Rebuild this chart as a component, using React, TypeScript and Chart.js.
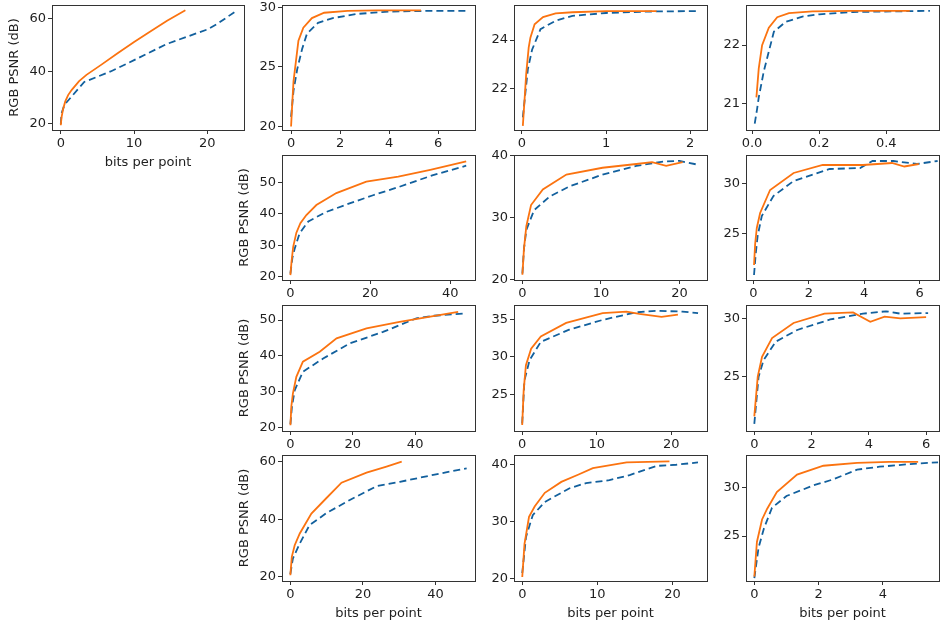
import React, { useEffect, useRef } from "react";
import { Chart, registerables } from "chart.js";

Chart.register(...registerables);

type Pt = [number, number];

// ---------- data (bits per point, RGB PSNR dB) ----------
const P00_ORANGE: Pt[] = [[0,19.5],[0.1,22.5],[0.3,25.5],[0.6,28.5],[1,31],[1.5,33],[2.5,36.3],[3.5,38.7],[5.5,42.5],[7.75,46.9],[10,51.2],[12,54.8],[14.5,59.3],[17,63.3]];
const P00_BLUE: Pt[] = [[0,20],[0.1,24],[0.5,27.3],[3.2,36],[6.8,40],[10,44.3],[14.5,50.5],[20,56],[21.3,58],[23.8,62.8]];

const P01_ORANGE: Pt[] = [[0,20],[0.05,22],[0.1,23.8],[0.2,25.5],[0.3,27.2],[0.5,28.3],[0.85,29.1],[1.35,29.55],[2.3,29.7],[3.5,29.75],[5.3,29.75]];
const P01_BLUE: Pt[] = [[0,20.8],[0.1,23],[0.25,24.8],[0.45,26.5],[0.65,27.8],[1.1,28.7],[1.7,29.1],[2.7,29.45],[4,29.65],[5.5,29.7],[7.15,29.7]];

const P02_ORANGE: Pt[] = [[0.01,20.45],[0.03,21.5],[0.05,22.6],[0.08,23.7],[0.1,24.1],[0.15,24.65],[0.25,24.95],[0.4,25.1],[0.6,25.15],[1,25.2],[1.6,25.2]];
const P02_BLUE: Pt[] = [[0.01,20.8],[0.04,21.8],[0.07,22.8],[0.12,23.6],[0.22,24.45],[0.4,24.8],[0.6,25.0],[1,25.12],[1.5,25.18],[2.1,25.2]];

const P03_ORANGE: Pt[] = [[0.013,21.1],[0.02,21.6],[0.03,22.0],[0.05,22.3],[0.075,22.48],[0.11,22.55],[0.18,22.58],[0.3,22.59],[0.47,22.59]];
const P03_BLUE: Pt[] = [[0.008,20.65],[0.015,20.9],[0.02,21.1],[0.035,21.55],[0.065,22.23],[0.1,22.4],[0.15,22.49],[0.2,22.53],[0.3,22.57],[0.53,22.59]];

const P11_ORANGE: Pt[] = [[0,20.5],[0.3,25],[0.7,29.5],[1.5,34],[2.5,37],[4,39.6],[6.5,42.8],[11.5,46.6],[19,50.2],[27,51.8],[35,54],[44,56.7]];
const P11_BLUE: Pt[] = [[0,21],[0.5,26],[1.1,29],[2.3,33.8],[4.5,37.6],[9,40.6],[14.8,43.3],[20.7,45.9],[27.3,48.6],[35.7,52.3],[44,55.3]];

const P12_ORANGE: Pt[] = [[0,20.8],[0.2,25],[0.5,28.6],[1.1,32],[2.6,34.5],[5.6,36.9],[10.2,38],[14.5,38.6],[16.5,38.9],[18.3,38.3],[20.4,38.9]];
const P12_BLUE: Pt[] = [[0,21],[0.2,25],[0.5,28],[1.5,31.2],[3.5,33.4],[6,35],[10.2,36.9],[14.5,38.3],[17.9,39],[20,39.1],[22.3,38.5]];

const P13_ORANGE: Pt[] = [[0.02,21.9],[0.06,24],[0.12,25.6],[0.24,27.1],[0.6,29.4],[1.45,31.1],[2.5,31.9],[3.95,31.9],[5,32.1],[5.45,31.75],[5.97,32.0]];
const P13_BLUE: Pt[] = [[0.02,20.9],[0.08,23],[0.15,24.8],[0.3,26.8],[0.72,28.8],[1.45,30.3],[2.75,31.5],[3.85,31.6],[4.3,32.3],[5.05,32.3],[5.9,32.0],[6.65,32.3]];

const P21_ORANGE: Pt[] = [[0,20.7],[0.3,26],[0.8,29.6],[1.9,34.2],[4,38.4],[9.4,41.2],[14.8,44.9],[24.4,47.7],[35,49.5],[45.8,51.1],[53.8,52.3]];
const P21_BLUE: Pt[] = [[0,21],[0.5,26],[1.4,30.5],[4,35.6],[10.5,39.3],[19,43.5],[29.7,46.7],[40.4,50.5],[46,51.2],[56.5,51.9]];

const P22_ORANGE: Pt[] = [[0,21],[0.2,25.6],[0.5,28.9],[1.2,31.1],[2.5,32.7],[5.9,34.5],[10.8,35.8],[14,36.0],[15.7,35.7],[18.7,35.3],[20.9,35.6]];
const P22_BLUE: Pt[] = [[0,21.2],[0.3,26.9],[1,29.6],[2.5,32],[6.3,33.6],[10.8,34.9],[15.3,35.9],[18,36.1],[21.5,36],[23.6,35.8]];

const P23_ORANGE: Pt[] = [[0,21.6],[0.12,25],[0.27,26.7],[0.62,28.3],[1.37,29.6],[2.45,30.4],[3.45,30.5],[4.05,29.7],[4.55,30.15],[5.1,30.0],[6.0,30.1]];
const P23_BLUE: Pt[] = [[0,20.95],[0.15,25],[0.32,26.4],[0.75,28],[1.5,29],[2.65,29.9],[3.8,30.4],[4.6,30.6],[5.1,30.4],[6.07,30.45]];

const P31_ORANGE: Pt[] = [[0,20.6],[0.4,27],[1.2,31],[2.6,35.1],[5.8,42],[9.9,47.3],[14.1,52.7],[21,56.2],[26.5,58.3],[30.7,60]];
const P31_BLUE: Pt[] = [[0,21],[0.7,26.4],[2.6,31.6],[5.3,38],[9.9,42.1],[16.4,46.7],[23.8,51.5],[30.2,53],[39.4,55.4],[48.6,57.7]];

const P32_ORANGE: Pt[] = [[0,20.3],[0.3,26.1],[0.9,30.8],[1.65,32.6],[3,35],[5.2,36.9],[7.5,38.2],[9.4,39.3],[13.9,40.3],[19.6,40.5]];
const P32_BLUE: Pt[] = [[0,21],[0.5,27.3],[1.4,31.1],[3,33.4],[6.3,35.8],[8.5,36.7],[11.6,37.2],[14.3,38.1],[17.9,39.7],[20.5,39.9],[23.4,40.3]];

const P33_ORANGE: Pt[] = [[0,20.85],[0.08,24.4],[0.24,26.7],[0.4,27.8],[0.7,29.5],[1.33,31.3],[2.15,32.2],[3.2,32.5],[4.2,32.6],[5.1,32.6]];
const P33_BLUE: Pt[] = [[0,20.7],[0.13,23.8],[0.3,25.8],[0.55,27.9],[1.0,29.1],[1.85,30.2],[2.45,30.8],[3.2,31.8],[3.9,32.1],[4.95,32.4],[5.72,32.55]];

// ---------- tick labels ----------
const X_TICKS_A = [0, 10, 20];
const X_TICKS_B = [0, 2, 4, 6];
const X_TICKS_C = [0, 1, 2];
const X_TICKS_D = [0, 0.2, 0.4];
const X_TICKS_E = [0, 20, 40];
const X_TICKS_F = [0, 2, 4];

const Y_TICKS_20_60 = [20, 40, 60];
const Y_TICKS_20_30 = [20, 25, 30];
const Y_TICKS_22_24 = [22, 24];
const Y_TICKS_21_22 = [21, 22];
const Y_TICKS_20_50 = [20, 30, 40, 50];
const Y_TICKS_20_40 = [20, 30, 40];
const Y_TICKS_25_30 = [25, 30];
const Y_TICKS_25_35 = [25, 30, 35];

const X_LABEL = "bits per point";
const Y_LABEL = "RGB PSNR (dB)";

// ---------- layout / style ----------
const COL_LEFT = [52, 282, 514, 746];
const COL_RIGHT = [244, 475, 707, 939];
const ROW_TOP = [5, 155, 305, 455];
const ROW_BOTTOM = [130, 280, 431, 581];
const Y_W = 50;
const X_H = 40;
const T_PAD = 10;
const R_PAD = 2;

const ORANGE = "#fb7310";
const BLUE = "#12609d";
const AXIS = "#333333";
const TEXT = "#1e1e1e";

interface PanelCfg {
  row: number;
  col: number;
  orange: Pt[];
  blue: Pt[];
  xMin: number; xMax: number; yMin: number; yMax: number;
  xTicks: number[]; yTicks: number[];
  xDec: number;
  xTitle: boolean; yTitle: boolean;
}

const PANELS: PanelCfg[] = [
  { row: 0, col: 0, orange: P00_ORANGE, blue: P00_BLUE, xMin: -1.2, xMax: 25.0, yMin: 17.7, yMax: 65.3, xTicks: X_TICKS_A, yTicks: Y_TICKS_20_60, xDec: 0, xTitle: true, yTitle: true },
  { row: 0, col: 1, orange: P01_ORANGE, blue: P01_BLUE, xMin: -0.37, xMax: 7.5, yMin: 19.7, yMax: 30.2, xTicks: X_TICKS_B, yTicks: Y_TICKS_20_30, xDec: 0, xTitle: false, yTitle: false },
  { row: 0, col: 2, orange: P02_ORANGE, blue: P02_BLUE, xMin: -0.095, xMax: 2.2, yMin: 20.28, yMax: 25.45, xTicks: X_TICKS_C, yTicks: Y_TICKS_22_24, xDec: 0, xTitle: false, yTitle: false },
  { row: 0, col: 3, orange: P03_ORANGE, blue: P03_BLUE, xMin: -0.018, xMax: 0.557, yMin: 20.54, yMax: 22.69, xTicks: X_TICKS_D, yTicks: Y_TICKS_21_22, xDec: 1, xTitle: false, yTitle: false },
  { row: 1, col: 1, orange: P11_ORANGE, blue: P11_BLUE, xMin: -2.1, xMax: 46.2, yMin: 18.95, yMax: 58.7, xTicks: X_TICKS_E, yTicks: Y_TICKS_20_50, xDec: 0, xTitle: false, yTitle: true },
  { row: 1, col: 2, orange: P12_ORANGE, blue: P12_BLUE, xMin: -1.07, xMax: 23.5, yMin: 19.95, yMax: 40.05, xTicks: X_TICKS_A, yTicks: Y_TICKS_20_40, xDec: 0, xTitle: false, yTitle: false },
  { row: 1, col: 3, orange: P13_ORANGE, blue: P13_BLUE, xMin: -0.27, xMax: 6.7, yMin: 20.4, yMax: 32.9, xTicks: X_TICKS_B, yTicks: Y_TICKS_25_30, xDec: 0, xTitle: false, yTitle: false },
  { row: 2, col: 1, orange: P21_ORANGE, blue: P21_BLUE, xMin: -2.7, xMax: 59.2, yMin: 19.1, yMax: 54.2, xTicks: X_TICKS_E, yTicks: Y_TICKS_20_50, xDec: 0, xTitle: false, yTitle: true },
  { row: 2, col: 2, orange: P22_ORANGE, blue: P22_BLUE, xMin: -1.1, xMax: 24.8, yMin: 20.2, yMax: 36.87, xTicks: X_TICKS_A, yTicks: Y_TICKS_25_35, xDec: 0, xTitle: false, yTitle: false },
  { row: 2, col: 3, orange: P23_ORANGE, blue: P23_BLUE, xMin: -0.29, xMax: 6.45, yMin: 20.34, yMax: 31.14, xTicks: X_TICKS_B, yTicks: Y_TICKS_25_30, xDec: 0, xTitle: false, yTitle: false },
  { row: 3, col: 1, orange: P31_ORANGE, blue: P31_BLUE, xMin: -2.3, xMax: 50.9, yMin: 18.6, yMax: 62.3, xTicks: X_TICKS_E, yTicks: Y_TICKS_20_60, xDec: 0, xTitle: true, yTitle: true },
  { row: 3, col: 2, orange: P32_ORANGE, blue: P32_BLUE, xMin: -1.1, xMax: 24.6, yMin: 19.6, yMax: 41.6, xTicks: X_TICKS_A, yTicks: Y_TICKS_20_40, xDec: 0, xTitle: true, yTitle: false },
  { row: 3, col: 3, orange: P33_ORANGE, blue: P33_BLUE, xMin: -0.26, xMax: 5.75, yMin: 20.4, yMax: 33.3, xTicks: X_TICKS_F, yTicks: Y_TICKS_25_30, xDec: 0, xTitle: true, yTitle: false },
];

const toXY = (pts: Pt[]) => pts.map(([x, y]) => ({ x, y }));

const boxPlugin = {
  id: "frameBox",
  afterDatasetsDraw(chart: any) {
    const { ctx, chartArea } = chart;
    ctx.save();
    ctx.strokeStyle = AXIS;
    ctx.lineWidth = 1;
    ctx.strokeRect(
      Math.round(chartArea.left) + 0.5,
      Math.round(chartArea.top) + 0.5,
      Math.round(chartArea.right - chartArea.left),
      Math.round(chartArea.bottom - chartArea.top)
    );
    ctx.restore();
  },
};

function Panel({ cfg }: { cfg: PanelCfg }) {
  const ref = useRef<HTMLCanvasElement>(null);
  const plotW = COL_RIGHT[cfg.col] - COL_LEFT[cfg.col];
  const plotH = ROW_BOTTOM[cfg.row] - ROW_TOP[cfg.row];
  const W = plotW + Y_W + R_PAD;
  const H = plotH + T_PAD + X_H;
  const left = COL_LEFT[cfg.col] - Y_W;
  const top = ROW_TOP[cfg.row] - T_PAD;

  useEffect(() => {
    if (!ref.current) return;
    const font = { family: "'DejaVu Sans', sans-serif", size: 13 };
    const chart = new Chart(ref.current, {
      type: "line",
      data: {
        datasets: [
          {
            data: toXY(cfg.orange),
            borderColor: ORANGE,
            backgroundColor: ORANGE,
            borderWidth: 1.8,
            pointRadius: 0,
            tension: 0,
            fill: false,
            order: 0,
          },
          {
            data: toXY(cfg.blue),
            borderColor: BLUE,
            backgroundColor: BLUE,
            borderWidth: 1.8,
            borderDash: [7, 4],
            pointRadius: 0,
            tension: 0,
            fill: false,
            order: 1,
          },
        ],
      },
      options: {
        animation: false,
        responsive: false,
        maintainAspectRatio: false,
        parsing: true,
        layout: { padding: { top: T_PAD, right: R_PAD, left: 0, bottom: 0 } },
        plugins: {
          legend: { display: false },
          tooltip: { enabled: false },
          title: { display: false },
        },
        scales: {
          x: {
            type: "linear",
            min: cfg.xMin,
            max: cfg.xMax,
            afterBuildTicks: (s: any) => {
              s.ticks = cfg.xTicks.map((v) => ({ value: v }));
            },
            afterFit: (s: any) => {
              s.height = X_H;
              s.paddingLeft = 0;
              s.paddingRight = 0;
            },
            grid: { display: true, drawOnChartArea: false, drawTicks: true, tickLength: 4, color: AXIS },
            border: { display: false },
            ticks: {
              color: TEXT,
              font,
              padding: 2,
              maxRotation: 0,
              autoSkip: false,
              callback: (v: any) => Number(v).toFixed(cfg.xDec),
            },
            title: {
              display: cfg.xTitle,
              text: X_LABEL,
              color: TEXT,
              font,
              padding: { top: 0, bottom: 0 },
            },
          },
          y: {
            type: "linear",
            min: cfg.yMin,
            max: cfg.yMax,
            afterBuildTicks: (s: any) => {
              s.ticks = cfg.yTicks.map((v) => ({ value: v }));
            },
            afterFit: (s: any) => {
              s.width = Y_W;
              s.paddingTop = 0;
              s.paddingBottom = 0;
            },
            grid: { display: true, drawOnChartArea: false, drawTicks: true, tickLength: 4, color: AXIS },
            border: { display: false },
            ticks: {
              color: TEXT,
              font,
              padding: 2,
              autoSkip: false,
              callback: (v: any) => String(Math.round(Number(v))),
            },
            title: {
              display: cfg.yTitle,
              text: Y_LABEL,
              color: TEXT,
              font,
              padding: { top: 5, bottom: 0 },
            },
          },
        },
      },
      plugins: [boxPlugin],
    } as any);
    return () => chart.destroy();
  }, [cfg]);

  return (
    <canvas
      ref={ref}
      width={W}
      height={H}
      style={{ position: "absolute", left, top, width: W, height: H }}
    />
  );
}

export default function App() {
  return (
    <div
      style={{
        position: "absolute",
        left: 0,
        top: 0,
        width: 941,
        height: 628,
        overflow: "hidden",
        background: "#ffffff",
      }}
    >
      {PANELS.map((p) => (
        <Panel key={`${p.row}-${p.col}`} cfg={p} />
      ))}
    </div>
  );
}
